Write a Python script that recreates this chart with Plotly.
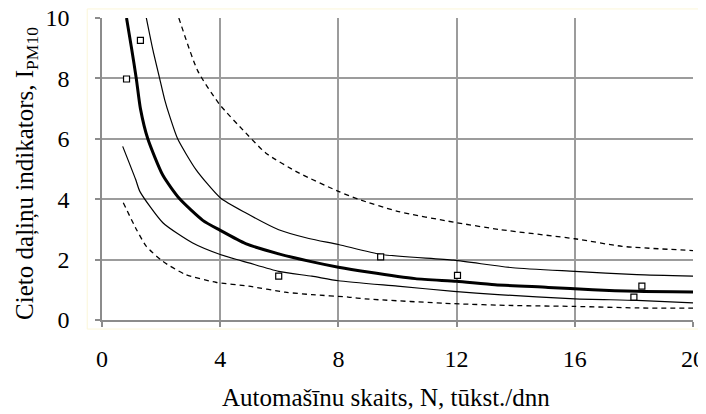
#!/usr/bin/env python3

import plotly.graph_objs as go

# measured points (N thousand/day, I_PM10)
meas_x = [0.83, 1.30, 5.98, 9.43, 12.03, 18.0, 18.27]
meas_y = [7.98, 9.26, 1.45, 2.09, 1.48, 0.76, 1.12]

# regression curve (thick line)
mid_x = [0.83, 1.0, 1.16, 1.3, 1.55, 2.06, 2.62, 3.41, 4.0, 4.86, 5.98,
         7.0, 8.0, 9.0, 10.6, 12.0, 13.3, 15.1, 16.6, 18.1, 20.0]
mid_y = [10.0, 9.0, 8.0, 7.0, 6.0, 4.79, 4.02, 3.30, 2.97, 2.53, 2.19,
         1.95, 1.75, 1.59, 1.37, 1.28, 1.17, 1.08, 1.00, 0.95, 0.93]

# confidence band (thin solid lines)
up_x = [1.5, 1.72, 1.95, 2.12, 2.29, 2.56, 3.18, 4.0, 4.86, 5.98, 7.0, 8.0,
        9.46, 11.9, 13.9, 16.0, 18.1, 20.0]
up_y = [10.0, 8.95, 8.0, 7.3, 6.75, 6.0, 4.98, 4.05, 3.55, 2.99, 2.7, 2.5,
        2.17, 1.98, 1.73, 1.61, 1.5, 1.45]
low_x = [0.7, 1.14, 1.28, 2.06, 3.07, 4.0, 4.97, 5.98, 7.1, 8.0, 10.0,
         11.9, 13.4, 16.0, 18.1, 20.0]
low_y = [5.75, 4.65, 4.26, 3.22, 2.55, 2.17, 1.89, 1.61, 1.45, 1.30, 1.12,
         0.95, 0.84, 0.70, 0.65, 0.57]

# prediction band (dashed lines)
pup_x = [2.6, 3.24, 3.97, 4.86, 5.54, 6.66, 8.0, 8.67, 10.0, 11.9, 13.5,
         16.0, 17.6, 20.0]
pup_y = [10.0, 8.25, 7.15, 6.2, 5.53, 4.87, 4.26, 4.0, 3.6, 3.24, 2.99,
         2.69, 2.44, 2.3]
plow_x = [0.72, 1.17, 1.5, 2.06, 2.84, 3.85, 4.97, 6.2, 7.1, 8.33, 8.9,
          11.9, 13.9, 16.0, 18.1, 20.0]
plow_y = [3.88, 2.99, 2.44, 1.94, 1.5, 1.25, 1.12, 0.92, 0.84, 0.76, 0.70,
          0.54, 0.48, 0.45, 0.40, 0.39]

x_ticks = [0, 4, 8, 12, 16, 20]
y_ticks = [0, 2, 4, 6, 8, 10]

FONT = "Liberation Serif, Times New Roman, serif"


def line(xs, ys, width, dash="solid"):
    return go.Scatter(x=xs, y=ys, mode="lines",
                      line=dict(color="black", width=width, dash=dash,
                                shape="spline", smoothing=0.6),
                      showlegend=False, hoverinfo="skip")


def main():
    traces = [
        line(pup_x, pup_y, 1.3, "5px,4px"),
        line(plow_x, plow_y, 1.3, "5px,4px"),
        line(up_x, up_y, 1.2),
        line(low_x, low_y, 1.2),
        line(mid_x, mid_y, 3),
        go.Scatter(x=meas_x, y=meas_y, mode="markers",
                   marker=dict(symbol="square", size=6, color="white",
                               line=dict(color="black", width=1.2)),
                   showlegend=False),
    ]

    axis_common = dict(
        showgrid=True, gridcolor="#9c9c9c", gridwidth=1.5,
        showline=True, linecolor="#8c8c8c", linewidth=1.5,
        ticks="outside", ticklen=5, tickcolor="#8c8c8c", tickwidth=1.5,
        zeroline=False, automargin=False, ticklabeloverflow="allow",
        tickfont=dict(family=FONT, size=24, color="black"),
    )

    # the page body has an 8px margin, so the figure is 8px smaller
    layout = go.Layout(
        width=698, height=406,
        margin=dict(l=94, r=13, t=10, b=94),
        paper_bgcolor="white", plot_bgcolor="white",
        font=dict(family=FONT, color="black"),
        xaxis=dict(range=[0, 20], tickvals=x_ticks, ticklabelstandoff=11,
                   **axis_common),
        yaxis=dict(range=[0, 10], tickvals=y_ticks, ticklabelstandoff=21,
                   **axis_common),
        annotations=[
            dict(text="Automašīnu skaits, N, tūkst./dnn",
                 xref="paper", yref="paper", x=0.48, y=-0.257,
                 xanchor="center", yanchor="middle", showarrow=False,
                 font=dict(family=FONT, size=25, color="black")),
            dict(text="Cieto daļiņu indikators, I<sub>PM10</sub>",
                 xref="paper", yref="paper", x=-0.128, y=0.485,
                 xanchor="center", yanchor="middle", textangle=-90,
                 showarrow=False,
                 font=dict(family=FONT, size=25, color="black")),
        ],
        shapes=[
            dict(type="rect", xref="paper", yref="paper",
                 x0=-0.025, x1=1.01, y0=-0.03, y1=1.03,
                 line=dict(color="#fbf6d8", width=1), layer="below"),
        ],
    )
    fig = go.Figure(data=traces, layout=layout)
    fig.write_html("out.html")


if __name__ == "__main__":
    main()
